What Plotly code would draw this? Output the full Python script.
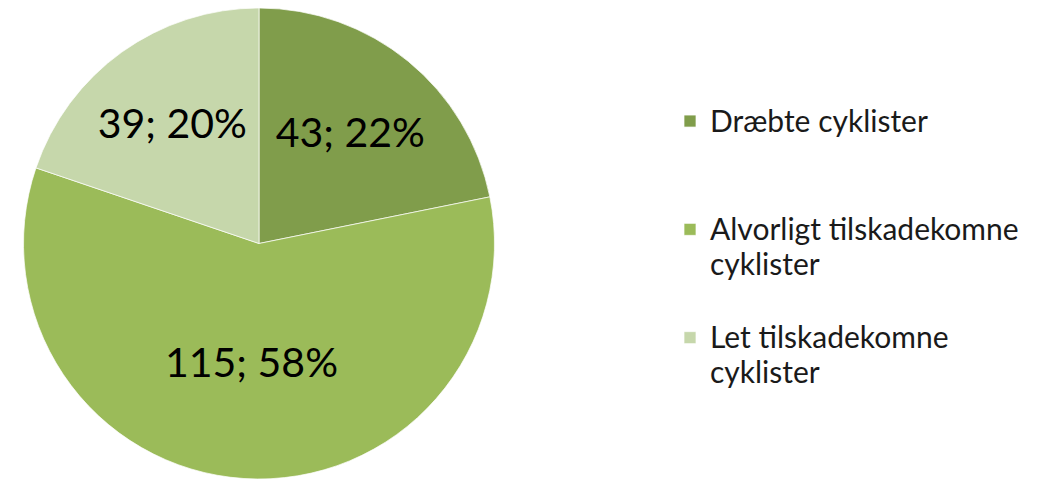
import plotly.graph_objects as go

labels = ["Dræbte cyklister", "Alvorligt tilskadekomne<br>cyklister", "Let tilskadekomne<br>cyklister"]
values = [43, 115, 39]
colors = ["#809D4B", "#9BBB59", "#C6D7AB"]

# legend display names: larger visible text, blank lines give the entry spacing
legend_names = []
for lab in labels:
    n_lines = lab.count("<br>") + 1
    legend_names.append('<span style="font-size:30px">' + lab + "</span>" + "<br> " * (3 - n_lines))

# page has an 8px body margin, so the figure is offset by 8px
W, H = 1053, 471
cx, cy, r = 251, 235, 237

fig = go.Figure(go.Pie(
    labels=legend_names,
    values=values,
    sort=False,
    direction="clockwise",
    rotation=0,
    marker=dict(colors=colors, line=dict(color="rgba(255,255,255,0.7)", width=1)),
    texttemplate="%{value}; %{percent:.0%}",
    textposition="inside",
    insidetextorientation="horizontal",
    textfont=dict(family="Lato", size=41, color="#000000"),
    domain=dict(x=[(cx - r) / W, (cx + r) / W],
                y=[max(0, (H - cy - r) / H), min(1, (H - cy + r) / H)]),
    hoverinfo="value+percent",
))

fig.update_layout(
    width=W, height=H,
    margin=dict(l=0, r=0, t=0, b=0),
    paper_bgcolor="white",
    plot_bgcolor="white",
    showlegend=True,
    legend=dict(
        x=662 / W, xanchor="left",
        y=1 - 89 / H, yanchor="top",
        valign="top",
        font=dict(family="Lato", size=27, color="#1a1a1a"),
        bgcolor="rgba(0,0,0,0)",
        traceorder="normal",
    ),
)

fig.write_html("out.html")
